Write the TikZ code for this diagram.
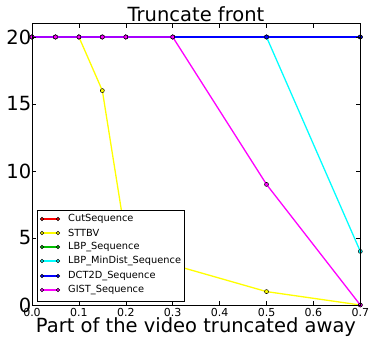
\documentclass[tikz,border=0pt]{standalone}
\usepackage{fontspec}
\setmainfont{DejaVu Sans}
\usepackage{xcolor}
\usepackage{tikz}
\usetikzlibrary{positioning}
\definecolor{rouge}{rgb}{1.0, 0.0, 0.0}
\definecolor{jaune}{rgb}{1.0, 1.0, 0.0}
\definecolor{vert}{rgb}{0.0, 0.75, 0.0}
\definecolor{cyan}{rgb}{0.0, 1.0, 1.0}
\definecolor{bleu}{rgb}{0.0, 0.0, 1.0}
\definecolor{magenta}{rgb}{1.0, 0.0, 1.0}
\tikzset{
  courbe/.style={line width=1.3pt},
  marque/.style={draw=black, line width=0.5pt},
  grand/.style={font=\fontsize{19.5}{20}\selectfont, inner sep=0pt},
  petit/.style={font=\fontsize{11}{12}\selectfont, inner sep=0pt},
  legende/.style={font=\fontsize{9.8}{10}\selectfont, anchor=west, inner sep=0pt}
}

\begin{document}
\begin{tikzpicture}[x=1pt,y=1pt]
            \useasboundingbox (0,0) rectangle (371,337);

            % Titre et axe x
            \node[grand, anchor=base] (titre) at (196,315) {Truncate front};
            \node[grand, anchor=base] (xlabel) at (196,4.2) {Part of the video truncated away};

            \begin{scope}[shift={(32,32)}, x=469pt, y=13.4pt]
            % Courbes
            \draw[courbe, rouge] (0,20) -- (0.05,20) -- (0.1,20) -- (0.15,20) -- (0.2,20) -- (0.3,20) -- (0.5,20) -- (0.7,20);
            \foreach \x/\y in {0/20,0.05/20,0.1/20,0.15/20,0.2/20,0.3/20,0.5/20,0.7/20}
                \filldraw[marque, fill=rouge] (\x,\y) circle (2pt);

            \draw[courbe, jaune] (0,20) -- (0.05,20) -- (0.1,20) -- (0.15,16) -- (0.2,5) -- (0.3,3) -- (0.5,1) -- (0.7,0);
            \foreach \x/\y in {0/20,0.05/20,0.1/20,0.15/16,0.2/5,0.3/3,0.5/1,0.7/0}
                \filldraw[marque, fill=jaune] (\x,\y) circle (2pt);

            \draw[courbe, vert] (0,20) -- (0.05,20) -- (0.1,20) -- (0.15,20) -- (0.2,20) -- (0.3,20) -- (0.5,20) -- (0.7,20);
            \foreach \x/\y in {0/20,0.05/20,0.1/20,0.15/20,0.2/20,0.3/20,0.5/20,0.7/20}
                \filldraw[marque, fill=vert] (\x,\y) circle (2pt);

            \draw[courbe, cyan] (0,20) -- (0.05,20) -- (0.1,20) -- (0.15,20) -- (0.2,20) -- (0.3,20) -- (0.5,20) -- (0.7,4);
            \foreach \x/\y in {0/20,0.05/20,0.1/20,0.15/20,0.2/20,0.3/20,0.5/20,0.7/4}
                \filldraw[marque, fill=cyan] (\x,\y) circle (2pt);

            \draw[courbe, bleu] (0,20) -- (0.05,20) -- (0.1,20) -- (0.15,20) -- (0.2,20) -- (0.3,20) -- (0.5,20) -- (0.7,20);
            \foreach \x/\y in {0/20,0.05/20,0.1/20,0.15/20,0.2/20,0.3/20,0.5/20,0.7/20}
                \filldraw[marque, fill=bleu] (\x,\y) circle (2pt);

            \draw[courbe, magenta] (0,20) -- (0.05,20) -- (0.1,20) -- (0.15,20) -- (0.2,20) -- (0.3,20) -- (0.5,9) -- (0.7,0);
            \foreach \x/\y in {0/20,0.05/20,0.1/20,0.15/20,0.2/20,0.3/20,0.5/9,0.7/0}
                \filldraw[marque, fill=magenta] (\x,\y) circle (2pt);

            % Cadre et graduations
            \draw[line width=0.8pt] (0,0) rectangle (0.7,21);
            \foreach \x in {0.0,0.1,0.2,0.3,0.4,0.5,0.6,0.7} {
                \draw[line width=0.5pt] (\x,0) -- ++(0,4pt);
                \draw[line width=0.5pt] (\x,21) -- ++(0,-4pt);
                \node[petit, below=3pt] (xt\x) at (\x,0) {\x};
            }
            \foreach \y in {0,5,10,15,20} {
                \draw[line width=0.5pt] (0,\y) -- ++(4pt,0);
                \draw[line width=0.5pt] (0.7,\y) -- ++(-4pt,0);
                \node[grand, left=0.5pt] (yt\y) at (0,\y) {\y};
            }
            \end{scope}

            % Legende
            \filldraw[fill=white, draw=black, line width=0.6pt] (37,36) rectangle (184,127);
            \foreach \c/\t/\y in {rouge/CutSequence/118, jaune/STTBV/104, vert/LBP\_Sequence/90,
                                  cyan/LBP\_MinDist\_Sequence/76, bleu/DCT2D\_Sequence/61, magenta/GIST\_Sequence/47} {
                \draw[courbe, \c] (42,\y) -- (58,\y);
                \filldraw[marque, fill=\c] (42,\y) circle (1.7pt);
                \filldraw[marque, fill=\c] (58,\y) circle (1.7pt);
                \node[legende] (leg\y) at (68,\y) {\t};
            }
        \end{tikzpicture}
\end{document}
